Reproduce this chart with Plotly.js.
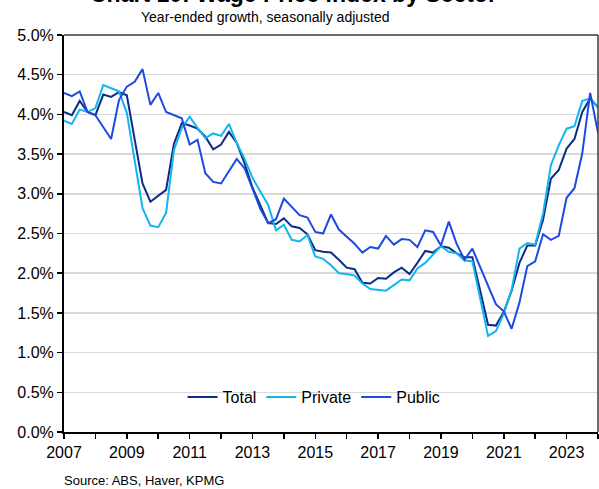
<!DOCTYPE html>
<html>
<head>
<meta charset="utf-8">
<script src="https://cdn.plot.ly/plotly-3.0.1.min.js"></script>
<style>html,body{margin:0;padding:0;background:#fff;}#chart{width:599px;height:489px;}</style>
</head>
<body>
<div id="chart"></div>
<script>
// Quarterly observations starting 2007 Q1 (year-ended growth, %)
const startYear = 2007;
const total = [4.03,3.99,4.17,4.03,3.99,4.25,4.22,4.28,4.24,3.68,3.13,2.90,2.97,3.05,3.63,3.89,3.86,3.82,3.72,3.56,3.62,3.78,3.64,3.38,3.08,2.85,2.63,2.62,2.69,2.59,2.57,2.49,2.29,2.27,2.26,2.17,2.07,2.05,1.88,1.87,1.94,1.93,2.01,2.07,1.99,2.13,2.28,2.26,2.34,2.32,2.25,2.20,2.20,1.78,1.35,1.34,1.51,1.78,2.13,2.35,2.35,2.67,3.19,3.30,3.57,3.69,4.03,4.20,4.09];
const privateSector = [3.92,3.88,4.06,4.03,4.08,4.37,4.33,4.29,4.02,3.42,2.82,2.60,2.58,2.76,3.55,3.83,3.97,3.83,3.70,3.76,3.73,3.88,3.64,3.44,3.20,3.03,2.86,2.54,2.61,2.42,2.40,2.48,2.21,2.18,2.10,2.00,1.99,1.97,1.87,1.80,1.79,1.78,1.85,1.92,1.91,2.06,2.13,2.24,2.34,2.27,2.25,2.16,2.15,1.68,1.21,1.27,1.49,1.79,2.31,2.38,2.36,2.75,3.36,3.61,3.82,3.85,4.17,4.20,4.09];
const publicSector = [4.27,4.23,4.29,4.03,3.99,3.84,3.69,4.18,4.35,4.41,4.57,4.12,4.27,4.03,3.99,3.95,3.62,3.68,3.26,3.15,3.13,3.29,3.44,3.32,3.06,2.81,2.63,2.68,2.94,2.83,2.73,2.70,2.52,2.50,2.74,2.55,2.46,2.37,2.26,2.33,2.31,2.47,2.36,2.43,2.42,2.33,2.54,2.52,2.35,2.65,2.37,2.17,2.31,2.08,1.84,1.61,1.52,1.30,1.63,2.09,2.15,2.49,2.42,2.47,2.95,3.07,3.51,4.27,3.77];
const seriesNames = ["Total","Private","Public"];
const xTickVals = [2007,2009,2011,2013,2015,2017,2019,2021,2023];
const xTickText = ["2007","2009","2011","2013","2015","2017","2019","2021","2023"];
const yTickVals = [0,0.5,1,1.5,2,2.5,3,3.5,4,4.5,5];
const yTickText = ["0.0%","0.5%","1.0%","1.5%","2.0%","2.5%","3.0%","3.5%","4.0%","4.5%","5.0%"];

const xq = total.map((_, i) => startYear + i * 0.25);
const colors = ["#0C2D83", "#12B5EE", "#1E49E2"];
const data = [total, privateSector, publicSector].map((ys, k) => ({
  type: "scatter", mode: "lines", name: seriesNames[k],
  x: xq, y: ys, line: {color: colors[k], width: 2}, hoverinfo: "skip"
}));

const FONT = "Liberation Sans, Arial, sans-serif";
const layout = {
  width: 599, height: 489,
  margin: {l: 64, r: 1, t: 35, b: 57},
  paper_bgcolor: "#fff", plot_bgcolor: "#fff",
  font: {family: FONT, size: 16, color: "#000"},
  showlegend: true,
  legend: {orientation: "h", x: 0.222, y: 0.088, xanchor: "left", yanchor: "middle",
           font: {family: FONT, size: 16, color: "#000"}, bgcolor: "rgba(0,0,0,0)", itemwidth: 30},
  xaxis: {range: [2007, 2024], tickmode: "array", tickvals: xTickVals, ticktext: xTickText,
          ticks: "outside", ticklen: 5, tickwidth: 1.5, tickcolor: "#000",
          minor: {dtick: 1, tick0: 2007, ticks: "outside", ticklen: 5, tickwidth: 1.5, tickcolor: "#000", showgrid: false},
          showgrid: false, zeroline: false, showline: true, linecolor: "#000", linewidth: 2, mirror: false,
          tickfont: {family: FONT, size: 16, color: "#000"}},
  yaxis: {range: [0, 5], tickmode: "array", tickvals: yTickVals, ticktext: yTickText,
          ticks: "outside", ticklen: 5, tickwidth: 1.5, tickcolor: "#000",
          showgrid: true, gridcolor: "#D9D9D9", gridwidth: 1.5, zeroline: false,
          showline: true, linecolor: "#000", linewidth: 2,
          tickfont: {family: FONT, size: 16, color: "#000"}},
  shapes: [
    {type: "line", xref: "paper", yref: "paper", x0: 0, x1: 1, y0: 1, y1: 1, line: {color: "#3a3a3a", width: 1.5}},
    {type: "line", xref: "paper", yref: "paper", x0: 1, x1: 1, y0: 0, y1: 1, line: {color: "#3a3a3a", width: 1.5}}
  ],
  annotations: [
    {text: "<b>Chart 10: Wage Price Index by Sector</b>", xref: "paper", yref: "paper", x: 0.429, y: 1.104,
     xanchor: "center", yanchor: "middle", showarrow: false, font: {family: FONT, size: 23, color: "#000"}},
    {text: "Year-ended growth, seasonally adjusted", xref: "paper", yref: "paper", x: 0.3776, y: 1.045,
     xanchor: "center", yanchor: "middle", showarrow: false, font: {family: FONT, size: 14, color: "#000"}},
    {text: "Source: ABS, Haver, KPMG", xref: "paper", yref: "paper", x: -0.004, y: -0.123,
     xanchor: "left", yanchor: "middle", showarrow: false, font: {family: FONT, size: 13, color: "#000"}}
  ]
};
Plotly.newPlot("chart", data, layout, {displayModeBar: false, staticPlot: true});
</script>
</body>
</html>
